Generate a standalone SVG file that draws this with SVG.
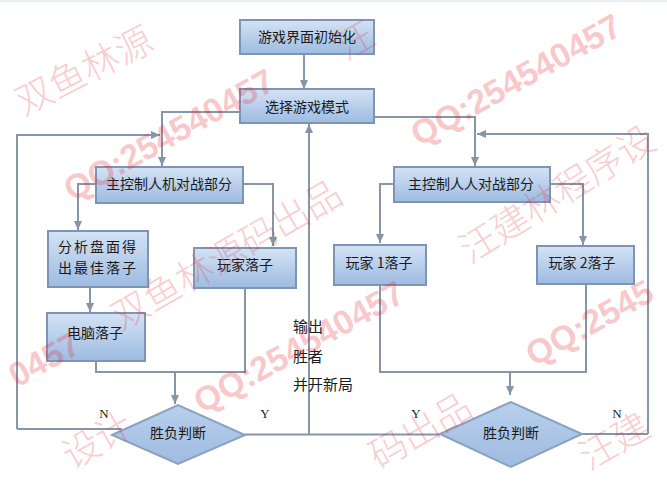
<svg xmlns="http://www.w3.org/2000/svg" width="667" height="485" viewBox="0 0 667 485">
<style>
.box{stroke:#7d95b3;stroke-width:2;fill:url(#bg)}
.dia{stroke:#8aa2c0;stroke-width:2;fill:url(#dg)}
.t{font-family:"Noto Sans CJK SC","Noto Sans",sans-serif;font-size:14px;fill:#1a1a1a;text-anchor:middle}
.lb{font-family:"Noto Sans CJK SC","Noto Sans",sans-serif;font-size:15px;fill:#1a1a1a}
.yn{font-family:"Liberation Serif",serif;font-size:13px;fill:#222;text-anchor:middle}
.c{fill:none;stroke:#8596a8;stroke-width:2}
.ca{fill:none;stroke:#8596a8;stroke-width:2;marker-end:url(#ah)}
.wz{font-family:"Noto Sans CJK SC",sans-serif;font-size:37px;font-weight:300;fill:#e8202a;opacity:0.22}
.wq{font-family:"Liberation Sans",Arial,sans-serif;font-size:34px;font-weight:bold;fill:#e8202a;opacity:0.24}
</style>
<defs>
<linearGradient id="bg" x1="0" y1="0" x2="0" y2="1">
<stop offset="0" stop-color="#d4e3f5"/>
<stop offset="1" stop-color="#9dbbe1"/>
</linearGradient>
<linearGradient id="dg" x1="0" y1="0" x2="0" y2="1">
<stop offset="0" stop-color="#b9d0ee"/>
<stop offset="1" stop-color="#9fbbe0"/>
</linearGradient>
<marker id="ah" markerUnits="userSpaceOnUse" markerWidth="9" markerHeight="8" refX="9" refY="4" orient="auto">
<path d="M0,0 L9,4 L0,8 z" fill="#8596a8"/>
</marker>
</defs>
<rect x="0" y="0" width="667" height="485" fill="#ffffff"/>
<rect x="0" y="0" width="667" height="2" fill="#e9edf5"/>

<g id="connectors">
<path class="ca" d="M304,54 V89"/>
<path class="ca" d="M240,112 H162 V166"/>
<path class="ca" d="M374,117 H475 V166"/>
<path class="ca" d="M17,429 V135 H160"/>
<path class="c" d="M122,429 H17"/>
<path class="ca" d="M648,434 V134 H477"/>
<path class="c" d="M582,434 H648"/>
<path class="c" d="M245,434.5 H440"/>
<path class="ca" d="M309,434 V124"/>
<path class="ca" d="M96,184 H78 V230"/>
<path class="ca" d="M243,184 H273 V246"/>
<path class="ca" d="M90,287 V312"/>
<path class="c" d="M96,361 V372 H245 V289"/>
<path class="ca" d="M175,372 V404"/>
<path class="ca" d="M394,184 H380 V243"/>
<path class="ca" d="M550,184 H583 V245"/>
<path class="c" d="M380,285 V372 H586 V284"/>
<path class="ca" d="M510,372 V395"/>
</g>

<g id="n1"><rect class="box" x="240" y="20" width="134" height="34"/><text class="t" x="307" y="42">游戏界面初始化</text></g>
<g id="n2"><rect class="box" x="240" y="89" width="134" height="34"/><text class="t" x="307" y="112">选择游戏模式</text></g>
<g id="n3"><rect class="box" x="96" y="167" width="147" height="36"/><text class="t" x="169" y="189">主控制人机对战部分</text></g>
<g id="n4"><rect class="box" x="394" y="167" width="156" height="35"/><text class="t" x="471" y="189">主控制人人对战部分</text></g>
<g id="n5"><rect class="box" x="48" y="231" width="100" height="56"/><text class="t" x="98" y="252" style="letter-spacing:2px">分析盘面得</text><text class="t" x="98" y="273" style="letter-spacing:2px">出最佳落子</text></g>
<g id="n6"><rect class="box" x="194" y="248" width="102" height="40"/><text class="t" x="245" y="270">玩家落子</text></g>
<g id="n7"><rect class="box" x="47" y="313" width="98" height="48"/><text class="t" x="95" y="338">电脑落子</text></g>
<g id="n8"><rect class="box" x="334" y="245" width="92" height="40"/><text class="t" x="379" y="268">玩家 1落子</text></g>
<g id="n9"><rect class="box" x="537" y="246" width="97" height="38"/><text class="t" x="582" y="268">玩家 2落子</text></g>
<g id="d1"><polygon class="dia" points="112,435 178,405 245,435 178,464"/><text class="t" x="178" y="438">胜负判断</text></g>
<g id="d2"><polygon class="dia" points="440,434 511,402 582,434 511,467"/><text class="t" x="511" y="438">胜负判断</text></g>

<g id="labels">
<text class="lb" x="293" y="332">输出</text>
<text class="lb" x="293" y="362">胜者</text>
<text class="lb" x="293" y="390">并开新局</text>
<text class="yn" x="104" y="418">N</text>
<text class="yn" x="265" y="418">Y</text>
<text class="yn" x="416" y="418">Y</text>
<text class="yn" x="617" y="418">N</text>
</g>

<g id="watermark">
<text class="wz" transform="translate(24,116) rotate(-27)">双鱼林源</text>
<text class="wz" transform="translate(121,331) rotate(-30)">双鱼林源码出品</text>
<text class="wz" transform="translate(379,470) rotate(-30)">码出品</text>
<text class="wz" transform="translate(346,61) rotate(-30)">汪</text>
<text class="wz" transform="translate(470,264) rotate(-32)">汪建林程序设</text>
<text class="wz" transform="translate(589,471) rotate(-30)">汪建</text>
<text class="wz" transform="translate(72,470) rotate(-30)">设计</text>
<text class="wq" transform="translate(72,202) rotate(-29)">QQ:254540457</text>
<text class="wq" transform="translate(419,147) rotate(-29)">QQ:254540457</text>
<text class="wq" transform="translate(202,414) rotate(-29)">QQ:254540457</text>
<text class="wq" transform="translate(534,367) rotate(-29)">QQ:2545</text>
<text class="wq" transform="translate(17,388) rotate(-29)">0457</text>
</g>
</svg>
